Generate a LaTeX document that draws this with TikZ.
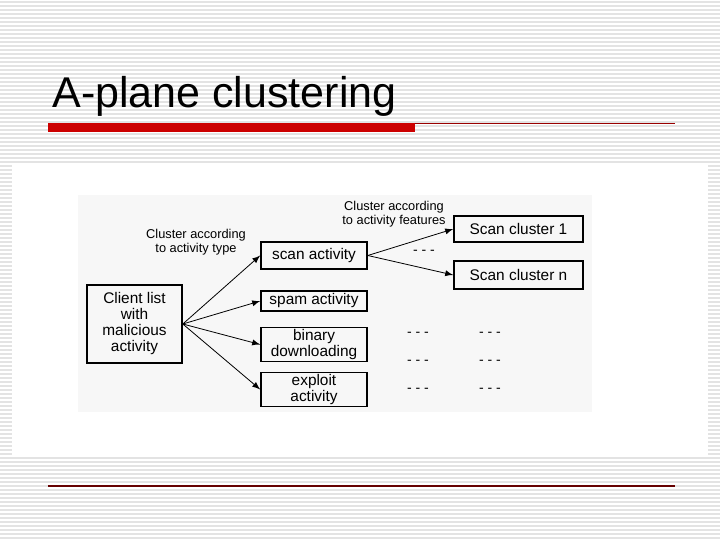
\documentclass[tikz,border=0pt]{standalone}
\usepackage{fontspec}
\setmainfont{Liberation Sans}
\usetikzlibrary{positioning}
\usetikzlibrary{arrows}
\tikzset{
    % Arrow shape used in the figure
    >=latex,
%
    % Boxes of the clustering tree
    step box/.style={draw, thick, rectangle, align=center, inner sep=1pt,
        font=\fontsize{7.7}{8}\selectfont},
%
    % Small annotations over the arrows
    note/.style={align=center, inner sep=0pt,
        font=\fontsize{6.4}{7.2}\selectfont},
    % Ellipsis marks
    dots/.style={inner sep=0pt, font=\fontsize{7}{7}\selectfont},
    % Slide colours
    stripe/.style={draw=gray!22, line width=0.6pt}}

\begin{document}
\begin{tikzpicture}[x=0.5pt, y=-0.5pt]
\useasboundingbox (0,0) rectangle (720,540);

% slide background
\fill[white] (0,0) rectangle (720,540);
\foreach \y in {2,6,...,538}
    \draw [stripe] (0,\y) -- (720,\y);
\fill[white] (12,165) rectangle (708,455);
\fill[black!3] (78,195) rectangle (592,412);

\node (title) [anchor=base west, inner sep=0pt,
    font=\fontsize{21.5}{22}\selectfont] at (52,108) {A-plane clustering};
\fill[red!80!black] (48,123) rectangle (415,132);
\draw[red!60!black, line width=0.5pt] (415,123.5) -- (675,123.5);
\draw[red!40!black, line width=0.8pt] (48,486) -- (675,486);

% boxes
\node (client) [step box, minimum width=47.5pt, minimum height=39pt]
    at (134.5,324) {Client list\\with\\malicious\\activity};
\node (scan) [step box, minimum width=53pt, minimum height=13.5pt]
    at (314,255.5) {scan activity};
\node (spam) [step box, minimum width=53pt, minimum height=10pt]
    at (314,301) {spam activity};
\node (binary) [step box, minimum width=53pt, minimum height=13.5pt]
    at (314,344.5) {binary\\downloading};
\node (exploit) [step box, minimum width=53pt, minimum height=15.5pt]
    at (314,389.5) {exploit\\activity};
\node (c1) [step box, minimum width=64.5pt, minimum height=13pt]
    at (518.5,229) {Scan cluster 1};
\node (cn) [step box, minimum width=64.5pt, minimum height=14pt]
    at (518.5,275) {Scan cluster n};

% annotations
\node (bytype) [note] at (196,242) {Cluster according\\to activity type};
\node (byfeat) [note] at (394,214) {Cluster according\\to activity features};

\node (d0) [dots] at (424,252) {- - -};
\foreach \y [count=\i] in {334,362,390} {
    \node (da\i) [dots] at (418,\y) {- - -};
    \node (db\i) [dots] at (490,\y) {- - -};
}

\draw [->] (client.east) -- (scan.west);
\draw [->] (client.east) -- (spam.west);
\draw [->] (client.east) -- (binary.west);
\draw [->] (client.east) -- (exploit.west);
\draw [->] (scan.east) -- (c1.west);
\draw [->] (scan.east) -- (cn.west);

\end{tikzpicture}
\end{document}
